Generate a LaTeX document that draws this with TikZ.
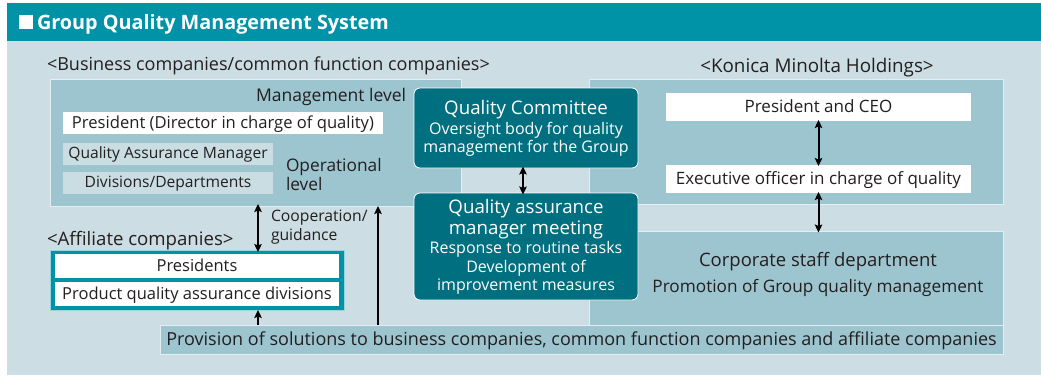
\documentclass[tikz,border=0pt]{standalone}
\usepackage{fontspec}
\setmainfont{Open Sans}
\usetikzlibrary{arrows.meta}
\definecolor{teal1}{HTML}{0093A8}
\definecolor{panel}{HTML}{CCDDE3}
\definecolor{midbox}{HTML}{9DC5CF}
\definecolor{lightbox}{HTML}{C9DDE3}
\definecolor{darkbox}{HTML}{006F7F}
\definecolor{ink}{HTML}{231F20}
\newcommand{\fsz}[1]{\fontsize{#1}{#1}\selectfont}
\tikzset{
  every node/.style={text=ink, inner sep=0pt, outer sep=0pt},
  fs/.style={font=\fsz{#1}, text height=0.72*#1pt, text depth=0.08*#1pt},
  midpanel/.style={fill=midbox, draw=white!70!midbox, line width=0.8pt},
  whitebox/.style={fill=white},
  greybox/.style={fill=lightbox},
  darkpanel/.style={fill=darkbox, draw=white, line width=0.8pt, rounded corners=6pt},
  wtxt/.style={text=white, anchor=center},
  arr/.style={line width=2pt, -{Stealth[length=8pt,width=7.5pt,inset=1.5pt]}},
  darr/.style={line width=2pt, {Stealth[length=8pt,width=7.5pt,inset=1.5pt]}-{Stealth[length=8pt,width=7.5pt,inset=1.5pt]}},
}
\begin{document}
\begin{tikzpicture}[x=1pt,y=-1pt]
\useasboundingbox (0,0) rectangle (1041,375);
% backgrounds
\fill[panel] (7,3) rectangle (1041,375);
\fill[teal1] (7,3) rectangle (1041,41);
\fill[white] (18.5,15) rectangle (33.3,29.3);
\node[anchor=base west, text=white, font=\fsz{19.8}\bfseries] (title) at (37,29) {Group Quality Management System};

% headings
\node[fs=18, anchor=west] (bizhead) at (47,65) {<Business companies/common function companies>};
\node[fs=18.8, anchor=center] (kmhead) at (817,66) {<Konica Minolta Holdings>};

% business companies box
\node[midpanel, minimum width=411pt, minimum height=127pt] (biz) at (255.5,142.5) {};
\node[fs=17.5, anchor=east] (mgmt) at (406,96) {Management level};
\node[whitebox, fs=16.6, minimum width=320pt, minimum height=22pt] (pres) at (223,123) {President (Director in charge of quality)};
\node[greybox, fs=15.6, minimum width=210pt, minimum height=22pt] (qam) at (168,154) {Quality Assurance Manager};
\node[greybox, fs=15.6, minimum width=210pt, minimum height=22pt] (div) at (168,183) {Divisions/Departments};
\node[fs=17.3, anchor=west] (oper1) at (286,166) {Operational};
\node[fs=17.3, anchor=west] (oper2) at (286,185) {level};

% holdings box
\node[midpanel, minimum width=414pt, minimum height=125pt] (km) at (796,141.5) {};
\node[whitebox, fs=17, minimum width=305pt, minimum height=28pt] (ceo) at (818.5,107) {President and CEO};
\node[whitebox, fs=17, minimum width=305pt, minimum height=28pt] (exec) at (818.5,179) {Executive officer in charge of quality};

% corporate staff
\node[midpanel, minimum width=414pt, minimum height=94pt] (corp) at (796,278) {};
\node[fs=18.5] (corpt) at (818,261) {Corporate staff department};
\node[fs=17.2] (corps) at (818,287) {Promotion of Group quality management};

% provision bar
\node[midpanel, minimum width=843pt, minimum height=29pt, fs=18] (prov) at (581.5,339.5) {Provision of solutions to business companies, common function companies and affiliate companies};

% dark boxes
\node[darkpanel, minimum width=224pt, minimum height=80pt] (qc) at (526,128) {};
\node[wtxt, fs=18.7] (qc1) at (526,109) {Quality Committee};
\node[wtxt, fs=16] (qc2) at (526,129) {Oversight body for quality};
\node[wtxt, fs=16] (qc3) at (526,147) {management for the Group};
\node[darkpanel, minimum width=224pt, minimum height=107pt] (qa) at (526,246.5) {};
\node[wtxt, fs=18.7] (qa1) at (526,208) {Quality assurance};
\node[wtxt, fs=18.7] (qa2) at (526,229) {manager meeting};
\node[wtxt, fs=16] (qa3) at (526,248) {Response to routine tasks};
\node[wtxt, fs=16] (qa4) at (526,267) {Development of};
\node[wtxt, fs=16] (qa5) at (526,285) {improvement measures};

% affiliate companies
\node[fs=18.6, anchor=west] (affhead) at (47,240) {<Affiliate companies>};
\node[fill=teal1, draw=white!60!teal1, line width=0.6pt, minimum width=294pt, minimum height=60pt] (aff) at (197,280) {};
\node[whitebox, fs=16.5, minimum width=284pt, minimum height=24pt] (affp) at (197,266) {Presidents};
\node[whitebox, fs=16.5, minimum width=284pt, minimum height=24pt] (affq) at (197,294) {Product quality assurance divisions};

% cooperation label
\node[anchor=west, fs=15.7] (coop1) at (271,216) {Cooperation/};
\node[anchor=west, fs=15.7] (coop2) at (271,235) {guidance};

% arrows
\draw[darr] ([yshift=2pt]biz.south -| 258,0) -- ([yshift=-2pt]aff.north -| 258,0);
\draw[darr] ([yshift=1.5pt]qc.south -| 523,0) -- ([yshift=-1.5pt]qa.north -| 523,0);
\draw[darr] ([yshift=1pt]ceo.south) -- ([yshift=-1pt]exec.north);
\draw[darr] ([yshift=1pt]exec.south) -- ([yshift=-1.5pt]corp.north -| exec.south);
\draw[arr] (prov.north -| 378,0) -- (biz.south -| 378,0);
\draw[arr] (prov.north -| 258,0) -- (aff.south -| 258,0);
\end{tikzpicture}
\end{document}
